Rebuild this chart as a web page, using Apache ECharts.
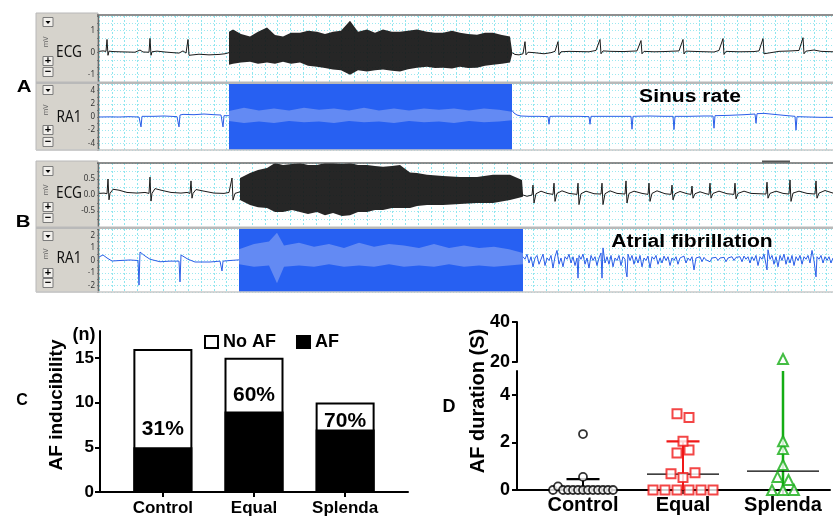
<!DOCTYPE html>
<html><head><meta charset="utf-8">
<script src="https://cdn.jsdelivr.net/npm/echarts@6/dist/echarts.min.js"></script>
<style>html,body{margin:0;padding:0;background:#fff}#c{width:833px;height:519px}</style>
</head><body><div id="c"></div>
<script>
// ================= DATA =================
// Time axis of the traces: 0..734 units (one unit = one recording sample step), values in mV.
const traceSpan = [0, 734];
// Panel A (sinus rhythm after burst pacing)
const ecgA_pre = [[0,0.06],[4,0.08],[7,0.06],[8,0.6],[9,-0.12],[10,0.07],[14,0.05],[20,0.04],[28,0.03],[36,0.02],[41,0.12],[44,0.03],[50,0.02],[51,0.65],[52,-0.12],[53,0.04],[58,0.07],[66,0.03],[74,0.0],[80,-0.02],[84,0.08],[87,-0.02],[89,0.6],[90,-0.12],[91,-0.05],[100,-0.07],[110,-0.1],[120,-0.08],[126,-0.05],[130,0.0]];
const ecgA_burst = [[130,-0.55,0.95],[134,-0.5,1.05],[142,-0.45,0.85],[151,-0.41,0.73],[159,-0.5,0.95],[168,-0.45,1.14],[176,-0.5,0.8],[184,-0.41,0.73],[192,-0.5,0.9],[201,-0.45,0.91],[209,-0.6,1.0],[218,-0.64,0.95],[226,-0.7,0.85],[234,-0.77,0.95],[242,-0.8,1.0],[251,-1.0,1.45],[259,-0.8,0.95],[268,-0.86,1.05],[276,-0.8,0.9],[284,-0.77,1.05],[293,-0.82,0.95],[301,-0.86,0.95],[309,-0.75,1.0],[318,-0.68,1.05],[328,-0.64,0.95],[336,-0.7,0.9],[344,-0.68,0.91],[353,-0.72,1.0],[361,-0.64,0.91],[369,-0.7,0.85],[378,-0.68,0.82],[386,-0.6,0.9],[394,-0.55,0.91],[403,-0.5,0.8],[411,-0.45,0.73],[413,-0.1,0.1]];
const ecgA_post = [[413,0.0],[416,-0.08],[420,-0.1],[424,-0.05],[426,0.5],[427,-0.1],[429,0.02],[435,0.0],[445,-0.05],[452,0.0],[456,0.06],[459,0.5],[460,-0.1],[462,0.04],[470,0.06],[480,0.05],[490,0.04],[497,0.1],[501,0.6],[502,-0.05],[504,0.08],[512,0.06],[525,0.05],[538,0.08],[542,0.55],[543,-0.05],[545,0.06],[555,0.04],[565,0.05],[580,0.08],[584,0.6],[585,-0.06],[587,0.07],[600,0.05],[615,0.03],[620,0.1],[624,0.64],[625,-0.08],[627,0.06],[640,0.04],[655,0.05],[660,0.08],[664,0.64],[665,-0.05],[667,0.04],[680,0.06],[692,0.08],[700,0.1],[704,0.68],[705,-0.05],[707,0.07],[715,0.12],[722,0.06],[734,0.04]];
const ra1A_pre = [[0,0.0],[10,0.02],[20,0.0],[30,0.05],[40,0.0],[41,-0.1],[42,-1.5],[43,0.1],[45,0.05],[55,0.1],[65,0.15],[72,0.1],[78,0.05],[80,-1.5],[81,0.3],[84,0.4],[95,0.35],[105,0.45],[115,0.35],[122,0.3],[124,-1.5],[125,0.2],[130,0.2]];
const ra1A_post = [[413,1.0],[415,0.6],[418,0.3],[422,0.15],[430,0.1],[440,0.1],[449,0.05],[450,-1.1],[451,0.1],[460,0.12],[470,0.1],[480,0.1],[490,0.05],[491,-1.1],[492,0.1],[505,0.1],[520,0.1],[532,0.1],[533,-1.85],[534,0.1],[550,0.15],[565,0.1],[574,0.1],[575,-1.9],[576,0.1],[590,0.1],[605,0.15],[614,0.15],[615,-1.7],[616,0.2],[630,0.25],[645,0.35],[656,0.45],[657,-0.95],[658,0.5],[665,0.55],[675,0.4],[685,0.25],[696,0.1],[697,-2.0],[698,0.05],[710,0.0],[722,-0.05],[734,-0.05]];
const ra1A_burstBand = [[130,-0.6,0.9],[145,-0.9,1.4],[160,-0.7,1.0],[175,-0.9,1.3],[190,-0.6,1.0],[205,-0.8,1.4],[220,-0.7,1.1],[235,-0.9,1.3],[250,-0.6,1.0],[265,-0.8,1.4],[280,-0.7,1.0],[295,-0.9,1.3],[310,-0.6,1.0],[325,-0.8,1.3],[340,-0.7,1.1],[355,-0.9,1.3],[370,-0.6,1.0],[385,-0.8,1.3],[400,-0.7,1.1],[413,-0.5,0.8]];
const pacingA = [130, 413];
// Panel B (atrial fibrillation after burst pacing)
const ecgB_pre = [[0,0.05],[5,0.06],[8,0.04],[9,0.5],[10,-0.15],[11,0.05],[14,0.18],[20,0.15],[28,0.08],[38,0.06],[46,0.08],[50,0.05],[51,0.56],[52,-0.19],[53,0.05],[56,0.2],[62,0.15],[72,0.08],[82,0.06],[88,0.08],[91,0.05],[92,0.44],[93,-0.1],[94,0.05],[97,0.17],[105,0.12],[115,0.06],[125,0.05],[130,0.08],[132,0.05],[133,0.53],[134,-0.16],[136,0.05],[141,0.1]];
const ecgB_burst = [[141,-0.16,0.53],[151,-0.31,0.69],[159,-0.38,0.78],[168,-0.41,0.84],[176,-0.53,1.0],[184,-0.53,0.94],[193,-0.47,0.97],[201,-0.53,1.0],[209,-0.59,0.94],[218,-0.53,0.94],[226,-0.63,1.0],[234,-0.56,1.0],[243,-0.66,0.97],[251,-0.63,1.0],[259,-0.53,0.94],[268,-0.53,0.94],[276,-0.47,0.91],[284,-0.47,0.88],[293,-0.41,0.91],[301,-0.41,0.94],[311,-0.41,0.7],[318,-0.34,0.69],[328,-0.31,0.63],[344,-0.31,0.59],[361,-0.28,0.56],[378,-0.25,0.56],[394,-0.25,0.63],[411,-0.16,0.63],[423,-0.06,0.47],[424,-0.05,0.05]];
const ecgB_post = [[424,0],[428,-0.04],[433,0.0],[434,0.31],[435,-0.25],[437,0.04],[442,0.12],[448,0.05],[454,0.02],[455,0.37],[456,-0.2],[458,0.05],[463,0.13],[470,0.05],[478,0.02],[479,0.37],[480,-0.3],[482,0.04],[487,0.12],[495,0.04],[502,0.03],[503,0.37],[504,-0.3],[506,0.04],[511,0.13],[518,0.05],[526,0.03],[527,0.44],[528,-0.25],[530,0.05],[535,0.12],[543,0.05],[549,0.02],[550,0.37],[551,-0.2],[553,0.05],[558,0.13],[566,0.04],[572,0.02],[573,0.31],[574,-0.15],[576,0.04],[581,0.11],[588,0.04],[592,0.02],[593,0.28],[594,-0.1],[596,0.04],[601,0.1],[607,0.04],[610,0.02],[611,0.37],[612,-0.1],[614,0.05],[620,0.12],[628,0.04],[635,0.02],[636,0.37],[637,-0.12],[639,0.05],[645,0.12],[652,0.05],[660,0.04],[667,0.03],[668,0.4],[669,-0.1],[671,0.05],[677,0.12],[684,0.05],[690,0.03],[691,0.47],[692,-0.2],[694,0.06],[700,0.12],[708,0.05],[716,0.03],[717,0.44],[718,-0.1],[720,0.06],[726,0.14],[734,0.06]];
const ra1B_pre = [[0,0.28],[4,0.44],[8,0.2],[13,-0.04],[21,0.0],[31,0.04],[39,0.0],[40,-1.95],[41,0.67],[46,0.36],[51,0.1],[61,-0.1],[71,-0.05],[80,-0.05],[81,-1.7],[82,0.44],[89,0.1],[96,-0.12],[111,-0.12],[121,-0.05],[123,-0.83],[124,-0.05],[131,0.0],[140,0.05]];
const ra1B_post = [[424,0.3],[426,0.1],[428,0.5],[430,-0.2],[432,0.3],[434,-0.5],[436,0.2],[438,0.4],[440,-0.3],[442,0.1],[444,0.5],[446,-0.4],[448,0.2],[450,0.0],[452,0.4],[454,-0.6],[456,0.3],[458,0.8],[460,-0.3],[462,0.2],[464,-0.5],[466,0.3],[468,0.1],[470,0.5],[472,-0.2],[474,0.3],[476,-0.4],[478,0.2],[479,-1.4],[480,0.4],[482,0.1],[484,0.5],[486,-0.3],[488,0.2],[490,-0.6],[492,0.4],[494,0.0],[496,0.3],[498,-0.4],[500,0.2],[502,0.6],[503,-1.4],[504,1.0],[506,-0.2],[508,0.3],[510,-0.3],[512,0.4],[514,-0.5],[516,0.2],[518,0.0],[520,0.4],[522,-0.4],[524,0.3],[526,0.1],[527,-0.9],[528,-1.3],[529,0.5],[531,0.0],[533,0.4],[535,-0.3],[537,0.3],[539,-0.2],[541,0.4],[543,-0.5],[545,0.2],[547,0.0],[549,0.35],[551,-0.6],[553,0.3],[555,0.1],[557,0.4],[559,-0.3],[561,0.2],[563,-0.2],[565,0.35],[567,0.0],[569,0.3],[571,-0.4],[573,0.2],[575,0.0],[577,0.3],[579,-0.3],[581,0.2],[583,0.1],[585,0.35],[587,-0.2],[589,0.2],[591,0.0],[593,0.3],[595,-0.75],[597,0.2],[599,0.1],[601,0.3],[603,-0.1],[605,0.25],[607,0.05],[609,0.2],[611,-0.1],[613,0.2],[615,0.1],[617,0.25],[619,0.0],[621,0.2],[623,0.05],[625,0.25],[627,-0.1],[629,0.2],[631,0.1],[633,0.3],[635,0.0],[637,0.25],[639,0.1],[641,0.3],[643,-0.1],[645,0.35],[647,0.1],[649,0.3],[651,-0.2],[653,0.3],[655,0.0],[657,0.4],[659,-0.4],[661,0.3],[663,0.1],[665,0.5],[667,-0.3],[668,-0.75],[669,0.85],[671,0.1],[673,0.4],[675,-0.3],[677,0.3],[679,-0.5],[681,0.4],[683,0.0],[685,0.5],[687,-0.3],[689,0.3],[691,-0.2],[693,0.4],[695,-0.4],[697,0.3],[699,0.0],[701,0.4],[703,-0.3],[705,0.3],[707,0.1],[709,0.4],[711,-0.2],[713,0.8],[715,0.0],[717,-1.3],[718,0.3],[720,0.1],[722,0.4],[724,-0.2],[726,0.3],[728,0.0],[730,0.3],[732,-0.2],[734,0.2]];
const ra1B_burstBand = [[140,-0.3,0.9],[155,-0.5,1.3],[170,-0.4,1.5],[178,-1.8,2.2],[185,-0.5,1.2],[200,-0.4,1.4],[215,-0.5,1.1],[230,-0.3,1.3],[245,-0.5,1.0],[260,-0.4,1.4],[275,-0.5,1.1],[290,-0.3,1.3],[305,-0.5,1.2],[320,-0.4,1.0],[335,-0.5,1.3],[350,-0.3,1.0],[365,-0.5,1.2],[380,-0.4,1.0],[395,-0.5,1.1],[410,-0.4,0.9],[424,-0.3,0.6]];
const pacingB = [140, 424];
// Trace axis labels
const ecgA_ticks = [-1, 0, 1];
const ra1A_ticks = [-4, -2, 0, 2, 4];
const ecgB_ticks = [-0.5, 0, 0.5];
const ra1B_ticks = [-2, -1, 0, 1, 2];
// Panel C
const groups = ['Control', 'Equal', 'Splenda'];
const totalN = [16, 15, 10];
const afN = [5, 9, 7];
const cTicks = [0, 5, 10, 15];
// Panel D (AF duration, seconds)
const controlDur = [0, 0.15, 0, 0, 0, 0, 0, 0, 0, 0, 0, 0, 0, 0.55, 2.35];
const equalDur = [0, 0, 0, 0, 0, 0, 0.68, 0.52, 0.72, 1.55, 1.68, 2.05, 3.2, 3.05];
const splendaDur = [0, 0, 0, 0.55, 0.42, 1.05, 1.72, 2.05, 21.5];
const dCenterLine = [null, 0.67, 0.79];
const dBarTop = [0.46, 2.04, 21.5];
const dLowTicks = [0, 2, 4];
const dHighTicks = [20, 40];

// ================= CHART =================
const FONT = '"Liberation Sans", Arial, Helvetica, sans-serif';
const UIFONT = '"Noto Sans", "DejaVu Sans", sans-serif';
const chart = echarts.init(document.getElementById('c'), null, {renderer: 'canvas'});

const grids = [
  {left: 99, top: 16, width: 734, height: 66},   // 0 ECG A
  {left: 99, top: 84, width: 734, height: 66},   // 1 RA1 A
  {left: 99, top: 163, width: 734, height: 64},  // 2 ECG B
  {left: 99, top: 229, width: 734, height: 63},  // 3 RA1 B
  {left: 100, top: 331, width: 308, height: 161},// 4 C
  {left: 517, top: 322, width: 313, height: 40}, // 5 D upper
  {left: 517, top: 371, width: 313, height: 119} // 6 D lower
];

function traceX(gi) {
  return {gridIndex: gi, type: 'value', min: traceSpan[0], max: traceSpan[1], interval: 734 / 57.5,
    axisLine: {show: false}, axisTick: {show: false}, axisLabel: {show: false},
    splitLine: {show: true, lineStyle: {color: '#8ee6ef', width: 1, type: [2, 2]}}};
}
function traceY(gi, min, max, interval, labels, fmt) {
  return {gridIndex: gi, type: 'value', min, max, interval,
    axisLine: {show: false},
    axisTick: {show: true, length: 2, lineStyle: {color: '#777'}},
    axisLabel: {show: true, customValues: labels, fontSize: 8, color: '#333', margin: 4, fontFamily: UIFONT, formatter: fmt},
    splitLine: {show: true, lineStyle: {color: '#9de8f0', type: [1, 2]}}};
}
function trace(data, gi, color, extra) {
  return Object.assign({type: 'line', xAxisIndex: gi, yAxisIndex: gi, data, showSymbol: false, symbol: 'none',
    lineStyle: {color, width: 1}, silent: true, z: 4}, extra || {});
}
function band(env, gi, color, opacity, z) {
  return {type: 'custom', xAxisIndex: gi, yAxisIndex: gi, clip: true, silent: true, z,
    data: env, encode: {x: 0, y: [1, 2]},
    renderItem: function (p, api) {
      if (p.dataIndex !== 0) return null;
      const up = env.map(r => api.coord([r[0], r[2]]));
      const lo = env.map(r => api.coord([r[0], r[1]])).reverse();
      return {type: 'polygon', shape: {points: up.concat(lo)}, style: {fill: color, opacity}};
    }};
}
function pacingMark(range) {
  return {silent: true, itemStyle: {color: '#2760f2', opacity: 1}, data: [[{xAxis: range[0]}, {xAxis: range[1]}]]};
}

// Panel C helpers
const cX = {min: 0.31, max: 3.69};
const pct = afN.map((a, i) => Math.round(a / totalN[i] * 100) + '%');
const labelLift = [8, 6, -2];

// Panel D beeswarm
const dX = {min: 0.34, max: 3.47};
const pxPerX = 313 / (dX.max - dX.min);
const pxPerY = 119 / 5;
function swarm(vals, spacingPx, tolPx) {
  const idx = vals.map((v, i) => i).sort((a, b) => vals[a] - vals[b] || a - b);
  const rows = []; let cur = null;
  idx.forEach(i => {
    const p = vals[i] * pxPerY;
    if (cur && p - cur.start <= tolPx) cur.items.push(i);
    else { cur = {start: p, items: [i]}; rows.push(cur); }
  });
  const off = new Array(vals.length).fill(0);
  rows.forEach(r => {
    r.items.sort((a, b) => a - b);
    const n = r.items.length;
    r.items.forEach((i, k) => { off[i] = (k - (n - 1) / 2) * spacingPx / pxPerX; });
  });
  return off;
}
function swarmData(vals, pos, spacing, lowOrHigh) {
  const off = swarm(vals, spacing, 7);
  return vals.map((v, i) => [pos + off[i], v]).filter(d => lowOrHigh === 'low' ? d[1] <= 5 : d[1] > 5);
}
const dColors = ['#000000', '#f01818', '#14ad14'];
const capHalf = 0.165, lineHalf = 0.36;

const series = [
  // Panel A
  band(ecgA_burst, 0, '#161616', 0.93, 3),
  trace(ecgA_pre, 0, '#1a1a1a'),
  trace(ecgA_post, 0, '#1a1a1a'),
  trace(ra1A_pre, 1, '#2a5ee8', {markArea: pacingMark(pacingA)}),
  band(ra1A_burstBand, 1, '#9fb4f4', 0.5, 3),
  trace(ra1A_post, 1, '#2a5ee8'),
  // Panel B
  band(ecgB_burst, 2, '#161616', 0.93, 3),
  trace(ecgB_pre, 2, '#1a1a1a'),
  trace(ecgB_post, 2, '#1a1a1a'),
  trace(ra1B_pre, 3, '#2a5ee8', {markArea: pacingMark(pacingB)}),
  band(ra1B_burstBand, 3, '#9fb4f4', 0.5, 3),
  trace(ra1B_post, 3, '#2a5ee8'),
  // Panel C: white total bar (No AF part visible above) + black AF bar in front
  {type: 'bar', name: 'No AF', xAxisIndex: 4, yAxisIndex: 4, barWidth: 59, barGap: '-100%', z: 2,
    data: totalN.map((v, i) => [i + 1, v]),
    itemStyle: {color: '#fff', borderColor: '#000', borderWidth: 2}},
  {type: 'bar', name: 'AF', xAxisIndex: 4, yAxisIndex: 4, barWidth: 59, barGap: '-100%', z: 3,
    data: afN.map((v, i) => ({value: [i + 1, v],
      label: {show: true, position: 'top', distance: labelLift[i], formatter: pct[i],
        fontSize: 21, fontWeight: 'bold', color: '#000', fontFamily: FONT}})),
    itemStyle: {color: '#000', borderColor: '#000', borderWidth: 2}},
  // Panel D summary lines
  {type: 'custom', xAxisIndex: 6, yAxisIndex: 6, clip: true, silent: true, z: 3,
    data: groups.map((g, i) => [i + 1, dBarTop[i]]), encode: {x: 0, y: 1},
    renderItem: function (p, api) {
      const i = p.dataIndex, x = i + 1, top = dBarTop[i], col = dColors[i];
      const ch = [];
      const b = api.coord([x, 0]), t = api.coord([x, top]);
      ch.push({type: 'line', shape: {x1: b[0], y1: b[1], x2: t[0], y2: t[1]}, style: {stroke: col, lineWidth: i === 2 ? 2.5 : 2}});
      if (top <= 5) {
        const l = api.coord([x - capHalf, top]), r = api.coord([x + capHalf, top]);
        ch.push({type: 'line', shape: {x1: l[0], y1: l[1], x2: r[0], y2: r[1]}, style: {stroke: col, lineWidth: 2.2}});
      }
      if (dCenterLine[i] != null) {
        const l = api.coord([x - lineHalf, dCenterLine[i]]), r = api.coord([x + lineHalf, dCenterLine[i]]);
        ch.push({type: 'line', shape: {x1: l[0], y1: l[1], x2: r[0], y2: r[1]}, style: {stroke: '#000', lineWidth: 1.2}});
      }
      return {type: 'group', children: ch};
    }},
  {type: 'scatter', xAxisIndex: 6, yAxisIndex: 6, z: 5, symbol: 'circle', symbolSize: 8,
    data: swarmData(controlDur, 1, 5, 'low'),
    itemStyle: {color: '#fff', borderColor: '#000', borderWidth: 1.8}},
  {type: 'scatter', xAxisIndex: 6, yAxisIndex: 6, z: 5, symbol: 'rect', symbolSize: 9,
    data: swarmData(equalDur, 2, 12, 'low'),
    itemStyle: {color: '#fff', borderColor: dColors[1], borderWidth: 2}},
  {type: 'scatter', xAxisIndex: 6, yAxisIndex: 6, z: 5, symbol: 'triangle', symbolSize: 10,
    data: swarmData(splendaDur, 3, 11, 'low'),
    itemStyle: {color: '#fff', borderColor: dColors[2], borderWidth: 2}},
  {type: 'scatter', xAxisIndex: 5, yAxisIndex: 5, z: 5, symbol: 'triangle', symbolSize: 10,
    data: swarmData(splendaDur, 3, 11, 'high'),
    itemStyle: {color: '#fff', borderColor: dColors[2], borderWidth: 2}}
];

const boldAxisLabel = (size, margin) => ({fontSize: size, fontWeight: 'bold', color: '#000', fontFamily: FONT, margin});
const blackLine = {show: true, lineStyle: {color: '#000', width: 2}};

const xAxis = [
  traceX(0), traceX(1), traceX(2), traceX(3),
  {gridIndex: 4, type: 'value', min: cX.min, max: cX.max, axisLine: blackLine,
    axisTick: {show: true, customValues: [1, 2, 3], length: 5, lineStyle: {width: 2, color: '#000'}},
    axisLabel: Object.assign(boldAxisLabel(17, 8), {customValues: [1, 2, 3], formatter: v => groups[Math.round(v) - 1]}),
    splitLine: {show: false}},
  {gridIndex: 5, type: 'value', min: dX.min, max: dX.max, show: false},
  {gridIndex: 6, type: 'value', min: dX.min, max: dX.max, axisLine: blackLine,
    axisTick: {show: true, customValues: [1, 2, 3], length: 4, lineStyle: {width: 1.5, color: '#000'}},
    axisLabel: Object.assign(boldAxisLabel(20, 5), {customValues: [1, 2, 3], formatter: v => groups[Math.round(v) - 1]}),
    splitLine: {show: false}}
];
const yAxis = [
  traceY(0, -4 / 3, 5 / 3, 1 / 3, ecgA_ticks, v => String(Math.round(v))),
  traceY(1, -5, 5, 1, ra1A_ticks, v => String(Math.round(v))),
  traceY(2, -1, 1, 0.25, ecgB_ticks, v => v.toFixed(1)),
  traceY(3, -2.5, 2.5, 0.5, ra1B_ticks, v => String(Math.round(v))),
  {gridIndex: 4, type: 'value', min: 0, max: 18, axisLine: blackLine,
    axisTick: {show: true, customValues: cTicks, length: 5, lineStyle: {width: 2, color: '#000'}},
    axisLabel: Object.assign(boldAxisLabel(17, 6), {customValues: cTicks}), splitLine: {show: false}},
  {gridIndex: 5, type: 'value', min: 20, max: 40, axisLine: blackLine,
    axisTick: {show: true, customValues: dHighTicks, length: 5, lineStyle: {width: 2, color: '#000'}},
    axisLabel: Object.assign(boldAxisLabel(18, 7), {customValues: dHighTicks}), splitLine: {show: false}},
  {gridIndex: 6, type: 'value', min: 0, max: 5, axisLine: blackLine,
    axisTick: {show: true, customValues: dLowTicks, length: 5, lineStyle: {width: 2, color: '#000'}},
    axisLabel: Object.assign(boldAxisLabel(18, 7), {customValues: dLowTicks}), splitLine: {show: false}}
];

// ---------- decorative UI (recorder side panels, labels) ----------
const G = [];
function rect(x, y, w, h, fill, stroke, z) {
  G.push({type: 'rect', silent: true, z: z == null ? 1 : z, shape: {x, y, width: w, height: h},
    style: {fill: fill || 'none', stroke: stroke || null, lineWidth: 1}});
}
function hline(x1, x2, y, color, w, z) {
  G.push({type: 'line', silent: true, z: z == null ? 25 : z, shape: {x1, y1: y, x2, y2: y}, style: {stroke: color, lineWidth: w}});
}
function vline(x, y1, y2, color, w, z) {
  G.push({type: 'line', silent: true, z: z == null ? 25 : z, shape: {x1: x, y1, x2: x, y2}, style: {stroke: color, lineWidth: w}});
}
function text(t, x, y, o) {
  G.push({type: 'text', silent: true, x, y, rotation: o.rot || 0, scaleX: o.sx || 1, z: o.z || 20,
    style: {text: t, fill: o.color || '#000', fontSize: o.size, fontWeight: o.weight || 'normal',
      fontFamily: o.family || FONT, align: o.align || 'center', verticalAlign: 'middle'}});
}
function button(cx, cy, kind) {
  rect(cx - 5, cy - 4.5, 10, 9, '#f2f0ec', '#7b7b7b', 15);
  if (kind === 'down') G.push({type: 'polygon', silent: true, z: 16, shape: {points: [[cx - 2.5, cy - 1], [cx + 2.5, cy - 1], [cx, cy + 2]]}, style: {fill: '#000'}});
  else text(kind === '+' ? '+' : '\u2212', cx, cy, {size: 11, weight: 'bold', z: 16});
}
function recorder(top, mid, bottom, btn, names, mvY, nameY) {
  rect(36, top, 62, bottom - top, '#d6d3cc', '#b8b8b8', -1);
  rect(36, mid - 1.5, 797, 2.5, '#b9b9b9', null, 26);
  hline(97, 833, top + 2, '#6a6a6a', 1.5);
  vline(98.5, top + 2, bottom, '#6a6a6a', 1.5);
  hline(36, 833, bottom, '#c9c9c9', 1.5);
  btn.forEach(b => button(48, b[0], b[1]));
  mvY.forEach(y => text('mV', 46, y, {size: 7, color: '#666', rot: Math.PI / 2, family: UIFONT}));
  names.forEach((n, i) => text(n, 69, nameY[i], {size: 17, sx: 0.8, family: UIFONT, color: '#111'}));
}
recorder(13, 83, 150, [[22, 'down'], [61, '+'], [72, '-'], [90, 'down'], [130, '+'], [142, '-']], ['ECG', 'RA1'], [42, 110], [52, 117]);
recorder(161, 228, 292, [[171, 'down'], [207, '+'], [218, '-'], [236, 'down'], [273, '+'], [283, '-']], ['ECG', 'RA1'], [190, 254], [193, 258]);
hline(762, 790, 161.5, '#555', 2, 27);

text('A', 24, 87, {size: 17, weight: 'bold', sx: 1.2});
text('B', 23, 222, {size: 17, weight: 'bold', sx: 1.2});
text('Sinus rate', 690, 97, {size: 18, weight: 'bold', sx: 1.17, z: 30});
text('Atrial fibrillation', 692, 242, {size: 18, weight: 'bold', sx: 1.17, z: 30});
text('C', 22, 401, {size: 16, weight: 'bold'});
text('D', 449, 407, {size: 18, weight: 'bold'});
text('AF inducibility', 57, 405, {size: 19, weight: 'bold', rot: Math.PI / 2});
text('(n)', 84, 335, {size: 18, weight: 'bold'});
text('AF duration (S)', 478, 401, {size: 20, weight: 'bold', rot: Math.PI / 2});

chart.setOption({
  animation: false,
  backgroundColor: '#fff',
  grid: grids,
  xAxis, yAxis, series,
  legend: {left: 199, top: 328, itemWidth: 13, itemHeight: 12, itemGap: 20, selectedMode: false,
    textStyle: {fontSize: 18, fontWeight: 'bold', color: '#000', fontFamily: FONT},
    data: [
      {name: 'No AF', icon: 'rect', itemStyle: {color: '#fff', borderColor: '#000', borderWidth: 2}},
      {name: 'AF', icon: 'rect', itemStyle: {color: '#000', borderColor: '#000', borderWidth: 2}}
    ]},
  graphic: {elements: G}
});
</script>
</body></html>
